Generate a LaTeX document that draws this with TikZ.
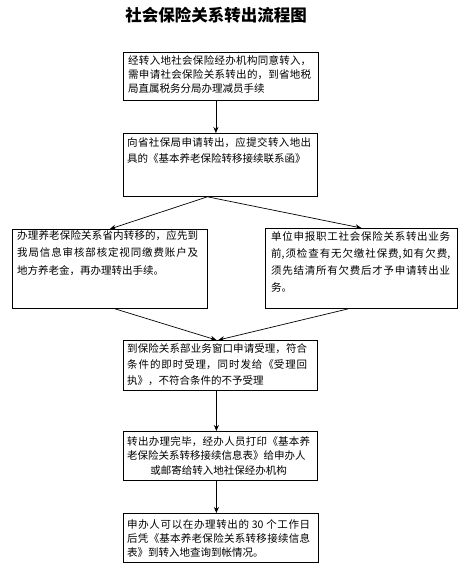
\documentclass[tikz,border=0pt]{standalone}
\usepackage{fontspec}
\setmainfont{Noto Sans CJK SC}
\XeTeXlinebreaklocale "zh"
\XeTeXlinebreakskip=0pt plus 2pt
\usetikzlibrary{arrows.meta,calc}
\begin{document}
\begin{tikzpicture}[x=1pt,y=-1pt,
  box/.style={draw=black,line width=0.8pt,inner sep=0pt,anchor=north west},
  txt/.style={inner sep=0pt,anchor=base west,align=justify,font=\fontsize{10.5}{#1}\selectfont},
  arr/.style={draw=black,line width=0.7pt,-{Stealth[length=6pt,width=5pt]}}]
\fill[white] (0,0) rectangle (469,580);
\useasboundingbox (0,0) rectangle (469,580);

\node[font=\fontsize{16.5}{20}\selectfont\bfseries] (title) at (216,15) {社会保险关系转出流程图};

\node[box,minimum width=195pt,minimum height=48pt] (b1) at (123,52) {};
\node[txt=14pt,text width=183pt] (t1) at (128,65) {经转入地社会保险经办机构同意转入，\linebreak 需申请社会保险关系转出的，到省地税\linebreak 局直属税务分局办理减员手续};

\node[box,minimum width=194pt,minimum height=63pt] (b2) at (123,133) {};
\node[txt=15pt,text width=184pt] (t2) at (127,147) {向省社保局申请转出，应提交转入地出\linebreak 具的《基本养老保险转移接续联系函》};

\node[box,minimum width=195pt,minimum height=79pt] (bl) at (12,229) {};
\node[txt=17.5pt,text width=181pt] (tl) at (17,239) {办理养老保险关系省内转移的，应先到\linebreak 我局信息审核部核定视同缴费账户及\linebreak 地方养老金，再办理转出手续。};

\node[box,minimum width=192pt,minimum height=80pt] (br) at (265,228) {};
\node[txt=17pt,text width=179pt] (tr) at (271,240) {单位申报职工社会保险关系转出业务\linebreak 前,须检查有无欠缴社保费,如有欠费,\linebreak 须先结清所有欠费后才予申请转出业\linebreak 务。};

\node[box,minimum width=194pt,minimum height=50pt] (b3) at (123,340) {};
\node[txt=16pt,text width=180pt] (t3) at (127,352) {到保险关系部业务窗口申请受理，符合\linebreak 条件的即时受理，同时发给《受理回\linebreak 执》，不符合条件的不予受理};

\node[box,minimum width=194pt,minimum height=49pt] (b4) at (123,431) {};
\node[txt=14.5pt,text width=183pt] (t4) at (127,445) {转出办理完毕，经办人员打印《基本养\linebreak 老保险关系转移接续信息表》给申办人\par\centering 或邮寄给转入地社保经办机构\par};

\node[box,minimum width=195pt,minimum height=49pt] (b5) at (123,513) {};
\node[txt=14pt,text width=183pt] (t5) at (127,528) {申办人可以在办理转出的 30 个工作日\linebreak 后凭《基本养老保险关系转移接续信息\linebreak 表》到转入地查询到帐情况。};

\draw[arr] ([xshift=-5pt]b1.south) -- ([xshift=-5pt]b1.south |- b2.north);
\draw[arr] ([xshift=-13pt]b2.south) -- (bl.north);
\draw[arr] ([xshift=-13pt]b2.south) -- (br.north);
\draw[arr] ([xshift=5pt]bl.south) -- ([xshift=-4pt]b3.north);
\draw[arr] ([xshift=-13pt]br.south) -- ([xshift=-2pt]b3.north);
\draw[arr] ([xshift=-4pt]b3.south) -- ([xshift=-4pt]b3.south |- b4.north);
\draw[arr] ([xshift=-4pt]b4.south) -- ([xshift=-4pt]b4.south |- b5.north);
\end{tikzpicture}
\end{document}
